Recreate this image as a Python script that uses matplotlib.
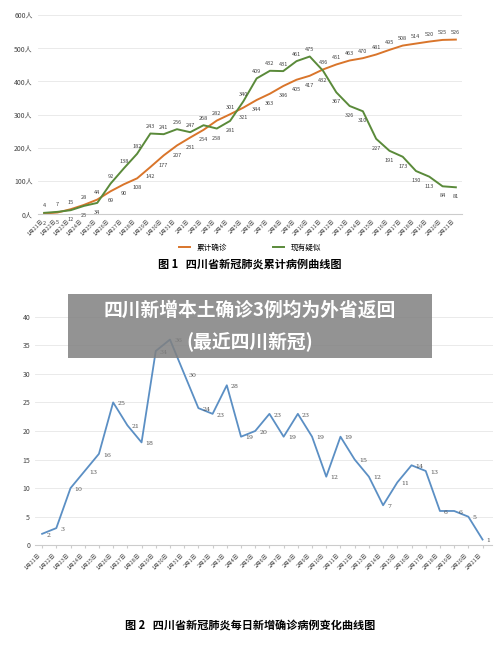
import matplotlib.pyplot as plt
import numpy as np

plt.rcParams['font.family'] = ['Noto Sans CJK SC', 'DejaVu Sans']

dates = [f"1月{d}日" for d in range(21, 32)] + [f"2月{d}日" for d in range(1, 22)]
cumulative = [2, 5, 15, 28, 44, 69, 90, 108, 142, 177, 207, 231, 254, 282, 301, 321,
              344, 363, 386, 405, 417, 436, 451, 463, 470, 481, 495, 508, 514, 520, 525, 526]
suspected = [4, 7, 12, 25, 34, 92, 138, 182, 243, 241, 256, 247, 268, 258, 281, 340,
             409, 432, 431, 461, 475, 432, 367, 326, 310, 227, 191, 173, 130, 113, 84, 81]
daily = [2, 3, 10, 13, 16, 25, 21, 18, 34, 36, 30, 24, 23, 28, 19, 20,
         23, 19, 23, 19, 12, 19, 15, 12, 7, 11, 14, 13, 6, 6, 5, 1]

x = np.arange(len(dates))
fig = plt.figure(figsize=(5, 6.53), dpi=100)

# 图1
ax1 = fig.add_axes([0.075, 0.672, 0.85, 0.305])
ax1.plot(x, cumulative, color='#d9752b', lw=1.4, label='累计确诊')
ax1.plot(x, suspected, color='#5a8a3a', lw=1.4, label='现有疑似')
for i in x:
    c, s = cumulative[i], suspected[i]
    up_c = c > s
    ax1.annotate(str(c), (i, c), xytext=(0, 4 if up_c else -8), textcoords='offset points',
                 ha='center', fontsize=4, color='#444')
    ax1.annotate(str(s), (i, s), xytext=(0, -8 if up_c else 4), textcoords='offset points',
                 ha='center', fontsize=4, color='#444')
ax1.set_ylim(0, 600)
ax1.set_yticks(range(0, 601, 100))
ax1.set_yticklabels([f"{v}人" for v in range(0, 601, 100)], fontsize=5, color='#444')
ax1.set_xlim(-0.5, len(x) - 0.5)
ax1.set_xticks(x)
ax1.set_xticklabels(dates, rotation=45, ha='right', fontsize=4, color='#444')
ax1.grid(axis='y', color='#e6e6e6', lw=0.6)
ax1.tick_params(length=0)
for sp in ['top', 'right', 'left']:
    ax1.spines[sp].set_visible(False)
ax1.spines['bottom'].set_color('#ccc')
fig.legend(*ax1.get_legend_handles_labels(), loc='center', bbox_to_anchor=(0.5, 0.621),
           ncol=2, frameon=False, fontsize=5.5, handlelength=1.5, columnspacing=6)
fig.text(0.5, 0.596, "图 1   四川省新冠肺炎累计病例曲线图", ha='center', va='center',
         fontsize=8, fontweight='bold')

# 图2
ax2 = fig.add_axes([0.07, 0.165, 0.915, 0.35])
ax2.plot(x, daily, color='#5b8fc4', lw=1.3)
for i in x:
    ax2.annotate(str(daily[i]), (i, daily[i]), xytext=(3, -2), textcoords='offset points',
                 fontsize=4.5, color='#555', family='serif')
ax2.set_ylim(0, 40)
ax2.set_yticks(range(0, 41, 5))
ax2.tick_params(axis='y', labelsize=5, length=0, labelcolor='#444')
ax2.set_xlim(-0.5, len(x) - 0.3)
ax2.set_xticks(x)
ax2.set_xticklabels(dates, rotation=45, ha='right', fontsize=4, color='#444')
ax2.tick_params(axis='x', length=2, color='#ccc')
ax2.grid(axis='y', color='#e6e6e6', lw=0.6)
for sp in ['top', 'right', 'left']:
    ax2.spines[sp].set_visible(False)
ax2.spines['bottom'].set_color('#ccc')
fig.text(0.5, 0.038, "图 2   四川省新冠肺炎每日新增确诊病例变化曲线图", ha='center', fontsize=8,
         fontweight='bold')

# 标题横幅
fig.patches.append(plt.Rectangle((0.136, 0.452), 0.728, 0.098, transform=fig.transFigure,
                                 facecolor='#808080', alpha=0.85, edgecolor='none'))
fig.text(0.5, 0.525, "四川新增本土确诊3例均为外省返回", ha='center', va='center',
         fontsize=13.5, fontweight='bold', color='white')
fig.text(0.5, 0.478, "(最近四川新冠)", ha='center', va='center',
         fontsize=13.5, fontweight='bold', color='white')

fig.savefig('out.png', dpi=100)
